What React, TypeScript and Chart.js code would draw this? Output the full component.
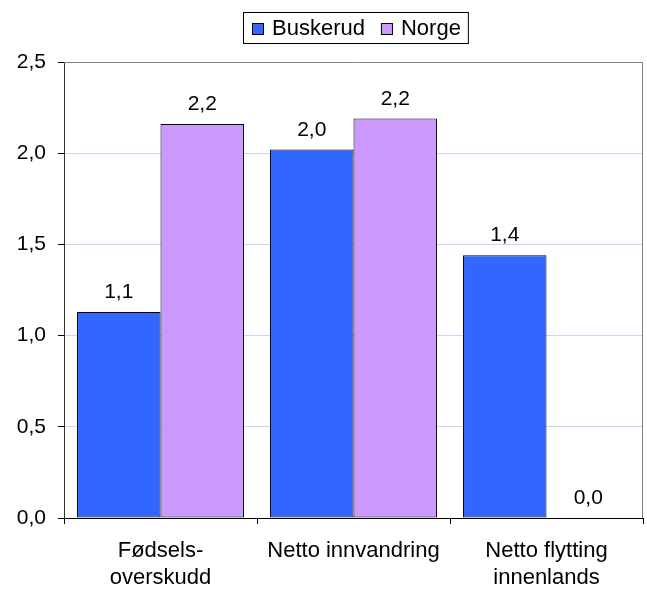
import React, { useEffect, useRef } from 'react';
import { Chart, registerables } from 'chart.js';
Chart.register(...registerables);

const categories: (string | string[])[] = [['Fødsels-', 'overskudd'], 'Netto innvandring', ['Netto flytting', 'innenlands']];
const seriesNames = ['Buskerud', 'Norge'];
const buskerud = [1.13, 2.02, 1.44];
const norge = [2.16, 2.19, 0.0];
const seriesColors = ['#3366FF', '#CC99FF'];
const yMin = 0;
const yMax = 2.5;
const yStep = 0.5;

const FONT = '"Liberation Sans", Arial, sans-serif';
const fmt = (v: number) => v.toFixed(1).replace('.', ',');

const overlayPlugin = {
  id: 'overlay',
  afterDraw(chart: any) {
    const ctx = chart.ctx;
    const area = chart.chartArea;
    ctx.save();
    // plot border (top, right)
    ctx.strokeStyle = '#808080';
    ctx.lineWidth = 1;
    ctx.beginPath();
    ctx.moveTo(area.left, area.top + 0.5);
    ctx.lineTo(area.right - 0.5, area.top + 0.5);
    ctx.lineTo(area.right - 0.5, area.bottom);
    ctx.stroke();

    // data labels
    ctx.fillStyle = '#000';
    ctx.font = `21px ${FONT}`;
    ctx.textAlign = 'center';
    ctx.textBaseline = 'alphabetic';
    chart.data.datasets.forEach((ds: any, i: number) => {
      const meta = chart.getDatasetMeta(i);
      meta.data.forEach((el: any, j: number) => {
        ctx.fillText(fmt(ds.data[j]), el.x, el.y - 14);
      });
    });

    // legend
    ctx.font = `22px ${FONT}`;
    const w0 = ctx.measureText(seriesNames[0]).width;
    const w1 = ctx.measureText(seriesNames[1]).width;
    const padL = 9, sq = 11, gapT = 9, gapItem = 16, padR = 7;
    const total = padL + sq + gapT + w0 + gapItem + sq + gapT + w1 + padR;
    const cx = (area.left + area.right) / 2 + 2;
    const left = Math.round(cx - total / 2);
    const top = 12, h = 31;
    ctx.strokeStyle = '#000';
    ctx.strokeRect(left + 0.5, top + 0.5, total, h);
    let x = left + padL;
    const midY = top + h / 2 + 0.5;
    [w0, w1].forEach((w, i) => {
      ctx.fillStyle = seriesColors[i];
      ctx.fillRect(x + 0.5, Math.round(midY - sq / 2) + 0.5, sq, sq);
      ctx.strokeStyle = '#000';
      ctx.strokeRect(x + 0.5, Math.round(midY - sq / 2) + 0.5, sq, sq);
      x += sq + gapT;
      ctx.fillStyle = '#000';
      ctx.textAlign = 'left';
      ctx.textBaseline = 'middle';
      ctx.fillText(seriesNames[i], x, midY + 1);
      x += w + gapItem;
    });
    ctx.restore();
  },
};

export default function App() {
  const ref = useRef<HTMLCanvasElement>(null);
  useEffect(() => {
    if (!ref.current) return;
    const chart = new Chart(ref.current, {
      type: 'bar',
      data: {
        labels: categories,
        datasets: [
          { label: seriesNames[0], data: buskerud, backgroundColor: seriesColors[0], borderColor: '#000', borderWidth: 1, borderSkipped: false },
          { label: seriesNames[1], data: norge, backgroundColor: seriesColors[1], borderColor: '#000', borderWidth: 1, borderSkipped: false },
        ],
      },
      options: {
        animation: false,
        responsive: true,
        maintainAspectRatio: false,
        layout: { padding: { top: 62, right: 4, left: 0, bottom: 0 } },
        datasets: { bar: { categoryPercentage: 0.865, barPercentage: 1 } },
        plugins: { legend: { display: false }, tooltip: { enabled: false } },
        scales: {
          x: {
            grid: { drawOnChartArea: false, drawTicks: true, tickLength: 6, offset: true, color: '#000' },
            border: { color: '#000' },
            ticks: { font: { family: FONT, size: 22 }, color: '#000', padding: 14, maxRotation: 0, autoSkip: false },
            afterFit: (s: any) => { s.height = 71; },
          },
          y: {
            min: yMin,
            max: yMax,
            ticks: {
              stepSize: yStep,
              callback: (v: any) => fmt(Number(v)),
              font: { family: FONT, size: 21 },
              color: '#000',
              padding: 12,
            },
            grid: { color: '#d0d0f8', tickColor: '#000', tickLength: 6 },
            border: { color: '#333' },
            afterFit: (s: any) => { s.width = 64; },
          },
        },
      },
      plugins: [overlayPlugin],
    });
    return () => chart.destroy();
  }, []);
  return (
    <div style={{ position: 'absolute', left: 0, top: 0, width: 647, height: 589, background: '#fff' }}>
      <canvas ref={ref} />
    </div>
  );
}
